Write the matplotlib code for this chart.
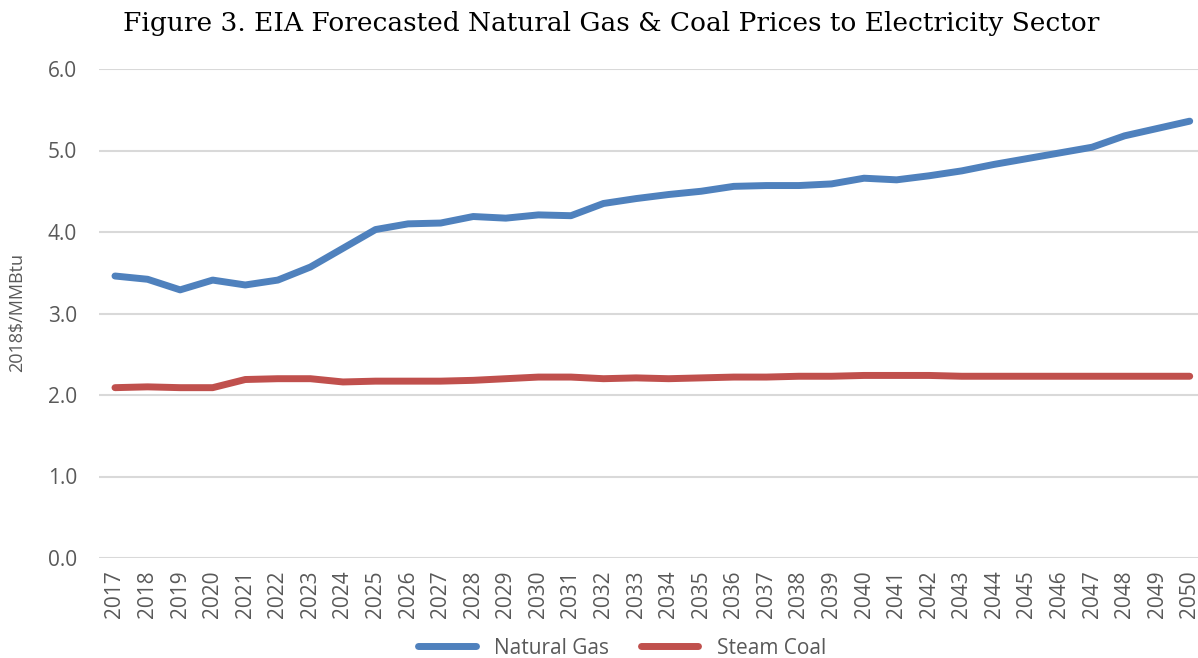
import matplotlib
matplotlib.use("Agg")
import matplotlib.pyplot as plt

years = list(range(2017, 2051))
natural_gas = [3.46, 3.42, 3.29, 3.41, 3.35, 3.41, 3.57, 3.80, 4.03, 4.10, 4.11, 4.19,
               4.17, 4.21, 4.20, 4.35, 4.41, 4.46, 4.50, 4.56, 4.57, 4.57, 4.59, 4.66,
               4.64, 4.69, 4.75, 4.83, 4.90, 4.97, 5.04, 5.18, 5.27, 5.36]
steam_coal = [2.09, 2.10, 2.09, 2.09, 2.19, 2.20, 2.20, 2.16, 2.17, 2.17, 2.17, 2.18,
              2.20, 2.22, 2.22, 2.20, 2.21, 2.20, 2.21, 2.22, 2.22, 2.23, 2.23, 2.24,
              2.24, 2.24, 2.23, 2.23, 2.23, 2.23, 2.23, 2.23, 2.23, 2.23]
yticks = [0.0, 1.0, 2.0, 3.0, 4.0, 5.0, 6.0]

plt.rcParams['font.family'] = ['Open Sans', 'DejaVu Sans']
grey = '#595959'

fig = plt.figure(figsize=(11.98, 6.58), dpi=100)
ax = fig.add_axes([98.7 / 1198, 100 / 658, (1206 - 98.7) / 1198, (558 - 69) / 658])

x = list(range(len(years)))
ax.plot(x, natural_gas, color='#4f81bd', lw=5, solid_capstyle='round', label='Natural Gas')
ax.plot(x, steam_coal, color='#c0504d', lw=5, solid_capstyle='round', label='Steam Coal')

ax.set_xlim(-0.5, len(years) - 0.5)
ax.set_ylim(0, 6)
ax.set_yticks(yticks)
ax.set_yticklabels([f'{v:.1f}' for v in yticks])
ax.set_xticks(x)
ax.set_xticklabels([str(y) for y in years], rotation=90)
ax.tick_params(axis='both', length=0, colors=grey, labelsize=15)
ax.tick_params(axis='y', pad=15.5)
ax.tick_params(axis='x', pad=9)
ax.grid(axis='y', color='#d9d9d9', lw=1.5)
ax.set_axisbelow(True)
for s in ax.spines.values():
    s.set_visible(False)

fig.text(17 / 1198, 1 - 313 / 658, '2018$/MMBtu', rotation=90, color=grey,
         fontsize=13, ha='center', va='center')
fig.text(611 / 1198, 1 - 23 / 658, 'Figure 3. EIA Forecasted Natural Gas & Coal Prices to Electricity Sector',
         family='DejaVu Serif', fontsize=19, ha='center', va='center', color='black')

fig.legend(loc='center', bbox_to_anchor=(622 / 1198, 1 - 648 / 658), ncol=2, frameon=False,
           fontsize=15, labelcolor=grey, handlelength=2.75, handletextpad=0.9,
           columnspacing=1.5)

fig.savefig('out.png', dpi=100)
